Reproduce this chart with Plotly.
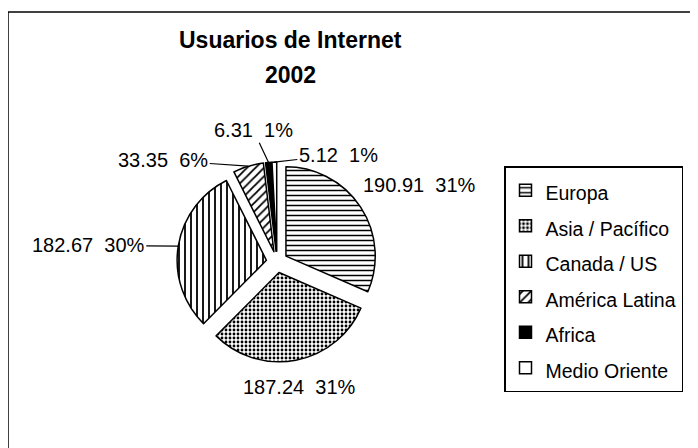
import math
import plotly.graph_objects as go

regions = ["Europa", "Asia / Pacífico", "Canada / US", "América Latina", "Africa", "Medio Oriente"]
users_millions = [190.91, 187.24, 182.67, 33.35, 6.31, 5.12]
pct_labels = ["31%", "31%", "30%", "6%", "1%", "1%"]

pattern_shapes = ["-", ".", "|", "/", "", ""]
fill_colors = ["white", "white", "white", "white", "black", "white"]

legend_labels = [f"<span style='font-size:19.5px'>{r}</span>" for r in regions]

# page has an 8px body margin
OFF = 8
W, H = 690, 440
ml, mr, mt, mb = 0, 1, 4, 0
pw, ph = W - ml - mr, H - mt - mb

def fx(px):
    return (px - OFF - ml) / pw

def fy(py):
    return 1 - (py - OFF - mt) / ph

FONT = "Liberation Sans, Arial"

cx, cy, box = 277, 262, 200
pull = 0.12

fig = go.Figure(go.Pie(
    labels=legend_labels,
    values=users_millions,
    sort=False,
    direction="clockwise",
    rotation=0,
    pull=pull,
    textinfo="none",
    marker=dict(
        colors=fill_colors,
        line=dict(color="black", width=1.5),
        pattern=dict(shape=pattern_shapes, fgcolor="black", bgcolor="white",
                     size=[5, 4, 6, 6, 5, 4], solidity=[0.3, 0.4, 0.3, 0.3, 0.3, 0.3]),
    ),
    domain=dict(x=[fx(cx - box / 2), fx(cx + box / 2)],
                y=[fy(cy + box / 2), fy(cy - box / 2)]),
    showlegend=True,
    hoverinfo="skip",
))

# data labels anchored at each slice's outer edge (mid-angle)
total = sum(users_millions)
r = box / (2 * (1 + pull))
d = r * (1 + pull)
# (dx, dy, leader line?)
label_offsets = [(59, -22, False), (4, 40, False), (-90, -1, True),
                 (-85, -6, True), (-15, -32, True), (64, -7, True)]
annots = []
cum = 0.0
for i, v in enumerate(users_millions):
    mid = (cum + v / 2) / total
    cum += v
    th = 2 * math.pi * mid
    tx = cx + d * math.sin(th)
    ty = cy - d * math.cos(th)
    dx, dy, line = label_offsets[i]
    a = dict(text=f"{v:.2f}  {pct_labels[i]}", x=fx(tx), y=fy(ty),
             xref="paper", yref="paper",
             font=dict(family=FONT, size=20, color="black"))
    if line:
        a.update(showarrow=True, arrowhead=0, arrowwidth=1.2,
                 arrowcolor="black", ax=dx, ay=dy)
    else:
        a.update(showarrow=False, xshift=dx, yshift=-dy)
    annots.append(a)

annots += [
    dict(text="<b>Usuarios de Internet</b>", x=fx(290), y=fy(40),
         xref="paper", yref="paper", showarrow=False, yanchor="middle",
         font=dict(size=23, family=FONT, color="black")),
    dict(text="<b>2002</b>", x=fx(290), y=fy(75),
         xref="paper", yref="paper", showarrow=False, yanchor="middle",
         font=dict(size=23, family=FONT, color="black")),
]

fig.update_layout(
    width=W, height=H,
    margin=dict(l=ml, r=mr, t=mt, b=mb),
    paper_bgcolor="white",
    plot_bgcolor="white",
    font=dict(family=FONT, color="black"),
    legend=dict(
        x=fx(504), y=fy(166), xanchor="left", yanchor="top",
        bordercolor="black", borderwidth=1.5, bgcolor="white",
        font=dict(size=25, family=FONT, color="black"),
        traceorder="normal",
    ),
    annotations=annots,
    shapes=[
        dict(type="line", xref="paper", yref="paper", x0=0, x1=1, y0=1, y1=1,
             line=dict(color="black", width=1.5)),
        dict(type="line", xref="paper", yref="paper", x0=0, x1=0, y0=-0.05, y1=1,
             line=dict(color="black", width=1.5)),
        dict(type="line", xref="paper", yref="paper", x0=1, x1=1, y0=-0.05, y1=1,
             line=dict(color="black", width=1.5)),
    ],
)

fig.write_html("out.html")
